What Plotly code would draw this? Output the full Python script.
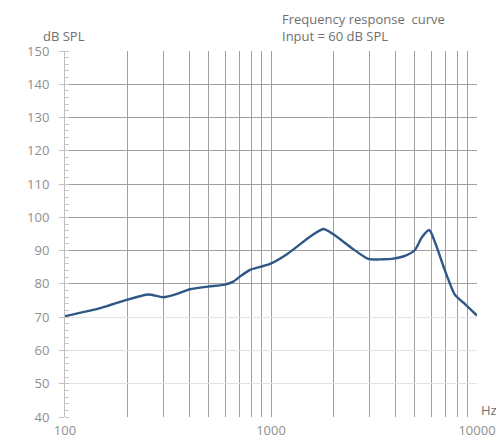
import plotly.graph_objects as go

# frequency response
freq_hz = [100, 150, 199, 254, 300, 350, 404, 496, 598, 656, 707, 791, 885, 989,
           1200, 1546, 1795, 2000, 2500, 2966, 3500, 3925, 4500, 5000, 5400,
           5865, 6300, 6870, 7820, 8800, 10000]
level_db = [70.3, 72.8, 75.2, 76.8, 76.0, 77.0, 78.4, 79.2, 79.8, 80.7, 82.2, 84.2,
            85.1, 86.0, 89.0, 94.2, 96.5, 95.0, 90.5, 87.5, 87.4, 87.6, 88.5, 90.2,
            94.0, 96.2, 92.0, 85.3, 76.7, 73.8, 70.5]

x_grid = [100, 200, 300, 400, 500, 600, 700, 800, 900, 1000,
          2000, 3000, 4000, 5000, 6000, 7000, 8000, 9000, 10000]
x_labels = {100: "100", 1000: "1000", 10000: "10000"}
y_ticks = list(range(40, 151, 10))
y_dark = list(range(80, 151, 10))

FONT = "Open Sans"
TXT = "#707070"
TICK = "#8f8f8f"

fig = go.Figure()
# invisible trace to anchor the second y axis (darker upper gridlines)
fig.add_trace(go.Scatter(x=[100], y=[40], yaxis="y2", mode="markers",
                         marker=dict(opacity=0), showlegend=False, hoverinfo="skip"))
fig.add_trace(go.Scatter(
    x=freq_hz, y=level_db, mode="lines",
    line=dict(color="#2f5886", width=2.4, shape="spline", smoothing=0.6),
    showlegend=False, hoverinfo="x+y"))

# page body has an 8px margin, so the figure is sized/offset to fill 504x443
fig.update_layout(
    width=496, height=435,
    margin=dict(l=57, r=27, t=43, b=26),
    paper_bgcolor="white", plot_bgcolor="white",
    font=dict(family=FONT, size=13, color=TICK),
    xaxis=dict(
        type="log", range=[2, 4], automargin=False,
        tickvals=x_grid,
        ticktext=[x_labels.get(v, "") for v in x_grid],
        showgrid=True, gridcolor="#a0a0a0", gridwidth=1.3,
        ticks="", showline=False, zeroline=False, ticklabelstandoff=4,
        tickfont=dict(family=FONT, size=13, color=TICK),
    ),
    yaxis=dict(
        range=[40, 150], tickvals=y_ticks, automargin=False,
        showgrid=True, gridcolor="#e3e3e3", gridwidth=1.3,
        ticks="outside", ticklen=5, tickcolor="#bfbfbf",
        minor=dict(ticks="inside", dtick=2, ticklen=4, tickcolor="#c8c8c8", showgrid=False),
        showline=True, linecolor="#bfbfbf", linewidth=1,
        zeroline=False, ticklabelstandoff=7,
        tickfont=dict(family=FONT, size=13, color=TICK),
    ),
    yaxis2=dict(
        overlaying="y", range=[40, 150], tickvals=y_dark, automargin=False,
        showgrid=True, gridcolor="#a0a0a0", gridwidth=1.3,
        showticklabels=False, ticks="", zeroline=False, showline=False,
    ),
)

fig.add_annotation(text="dB SPL", xref="paper", yref="paper", x=-0.058, y=1.0,
                   xanchor="left", yanchor="bottom", yshift=4, showarrow=False,
                   font=dict(family=FONT, size=13, color=TXT))
fig.add_annotation(text="Frequency response  curve<br>Input = 60 dB SPL",
                   xref="paper", yref="paper", x=0.522, y=1.0,
                   xanchor="left", yanchor="bottom", yshift=4, showarrow=False,
                   align="left", font=dict(family=FONT, size=13, color=TXT))
fig.add_annotation(text="Hz", xref="paper", yref="paper", x=1.0, y=0.0,
                   xanchor="left", yanchor="middle", xshift=2, yshift=7, showarrow=False,
                   font=dict(family=FONT, size=13, color=TXT))

fig.write_html("out.html", config={"displayModeBar": False})
